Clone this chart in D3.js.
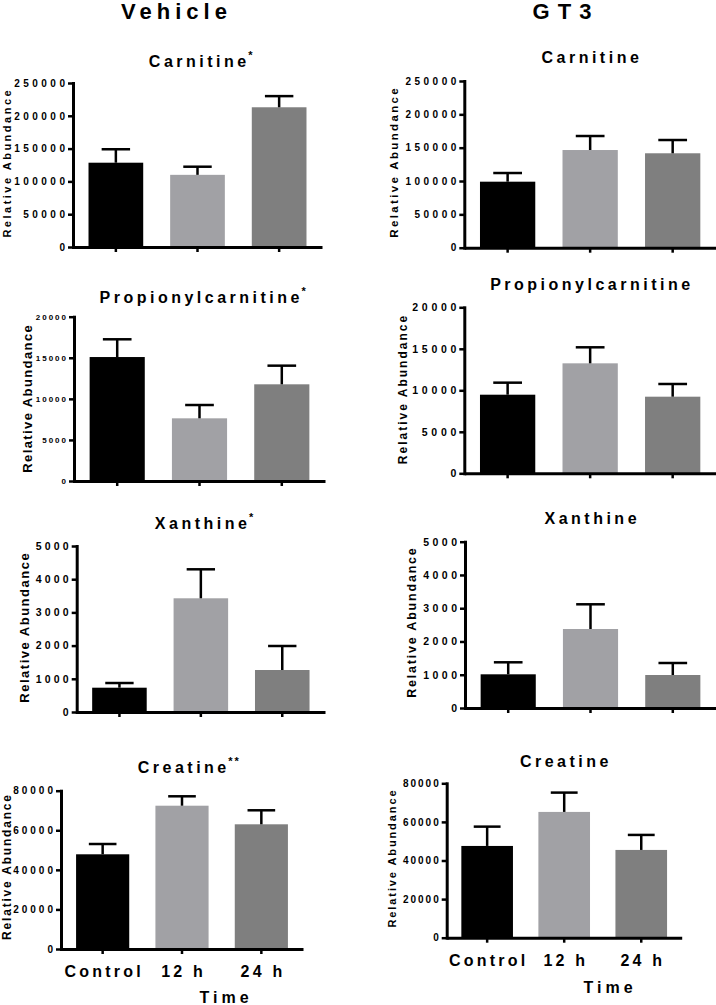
<!DOCTYPE html>
<html>
<head>
<meta charset="utf-8">
<script src="https://cdn.jsdelivr.net/npm/d3@7/dist/d3.min.js"></script>
<style>
  html, body { margin: 0; padding: 0; background: #fff; }
  svg { display: block; font-family: "Liberation Sans", Arial, sans-serif; font-weight: bold; }
</style>
</head>
<body>
<svg id="chart" width="716" height="1005"></svg>
<script>
// ---------------- data ----------------
const groups = ["Vehicle", "GT3"];
const categories = ["Control", "12 h", "24 h"];
const metabolites = ["Carnitine", "Propionylcarnitine", "Xanthine", "Creatine"];

const vehicleMeans = [
  [128500, 110000, 213000],
  [15090, 7630, 11770],
  [732, 3425, 1265],
  [47860, 72420, 63020]
];
const vehicleSEM = [
  [20500, 12400, 17000],
  [2160, 1620, 2270],
  [141, 873, 723],
  [5200, 4750, 7080]
];
const gt3Means = [
  [99000, 146500, 141600],
  [9470, 13250, 9230],
  [1013, 2375, 992],
  [47540, 65170, 45470]
];
const gt3SEM = [
  [13000, 21000, 19900],
  [1450, 1930, 1530],
  [361, 743, 361],
  [10010, 10010, 7780]
];
const vehicleStars = ["*", "*", "*", "**"];
const gt3Stars = ["", "", "", ""];

const yMaxes = [250000, 20000, 5000, 80000];
const yTicks = [
  [0, 50000, 100000, 150000, 200000, 250000],
  [0, 5000, 10000, 15000, 20000],
  [0, 1000, 2000, 3000, 4000, 5000],
  [0, 20000, 40000, 60000, 80000]
];
const yAxisTitle = "Relative Abundance";
const xAxisTitle = "Time";
const barColors = ["#000000", "#a1a1a5", "#7f7f7f"];

// ---------------- layout (positions / sizes) ----------------
const groupTitleLayout = [
  { x: 174, y: 19, fs: 22, ls: 5 },
  { x: 562, y: 19, fs: 22, ls: 8 }
];
const layout = [
  [
    { x0: 73,   x1: 322, yTop: 83,    yZero: 247,   tfs: 10,   tls: 3.5, yl: { x: 10.5, y: 164,   fs: 11,   ls: 2.5 }, titleY: 66.7 },
    { x0: 74,   x1: 325, yTop: 316.7, yZero: 481,   tfs: 8,    tls: 2,   yl: { x: 31.5, y: 399,   fs: 13,   ls: 1.4 }, titleY: 303.3 },
    { x0: 76.7, x1: 325, yTop: 546,   yZero: 712,   tfs: 10.5, tls: 3.2, yl: { x: 29.3, y: 628,   fs: 13,   ls: 1.5 }, titleY: 529.3 },
    { x0: 61,   x1: 303, yTop: 790.7, yZero: 949,   tfs: 10,   tls: 3,   yl: { x: 11,   y: 867.5, fs: 12,   ls: 1.8 }, titleY: 773.3,
      xlabY: 976.7, timeX: 224, timeY: 1003 }
  ],
  [
    { x0: 464.3, x1: 716,   yTop: 81,    yZero: 247.7, tfs: 10,   tls: 3.5, yl: { x: 398,   y: 163, fs: 11.5, ls: 2.35 }, titleY: 63.3 },
    { x0: 464.3, x1: 716,   yTop: 307.3, yZero: 473.3, tfs: 10.5, tls: 3.7, yl: { x: 406.5, y: 390, fs: 12,   ls: 2 },    titleY: 290 },
    { x0: 465,   x1: 716,   yTop: 541.7, yZero: 708,   tfs: 10.5, tls: 3.5, yl: { x: 416,   y: 623, fs: 12.5, ls: 1.8 },  titleY: 524.3 },
    { x0: 446.7, x1: 681.7, yTop: 783.3, yZero: 937.7, tfs: 10,   tls: 2,   yl: { x: 396,   y: 859, fs: 11,   ls: 1.9 },  titleY: 766.7,
      xlabY: 965.7, timeX: 608, timeY: 993.3 }
  ]
];
const titleFs = 16, titleLs = 3.5, starFs = 11;
const xLabFs = 16, xLabLs = 3.2;

// ---------------- drawing ----------------
const svg = d3.select("#chart");

groups.forEach((g, gi) => {
  const gl = groupTitleLayout[gi];
  svg.append("text")
    .attr("x", gl.x + gl.ls / 2).attr("y", gl.y)
    .attr("text-anchor", "middle")
    .style("font-size", gl.fs + "px")
    .style("letter-spacing", gl.ls + "px")
    .text(g);
});

const allMeans = [vehicleMeans, gt3Means];
const allSEM = [vehicleSEM, gt3SEM];
const allStars = [vehicleStars, gt3Stars];

metabolites.forEach((m, mi) => {
  groups.forEach((g, gi) => {
    const L = layout[gi][mi];
    const means = allMeans[gi][mi];
    const sems = allSEM[gi][mi];
    const panel = svg.append("g");

    const x = d3.scaleBand().domain(categories).range([L.x0, L.x1])
      .paddingInner(0.33).paddingOuter(0.19);
    const y = d3.scaleLinear().domain([0, yMaxes[mi]]).range([L.yZero, L.yTop]);

    // bars
    panel.selectAll("rect.bar").data(categories).enter().append("rect")
      .attr("x", d => x(d))
      .attr("y", (d, i) => y(means[i]))
      .attr("width", x.bandwidth())
      .attr("height", (d, i) => y(0) - y(means[i]))
      .attr("fill", (d, i) => barColors[i]);

    // error bars (upper only)
    const capW = x.bandwidth() * 0.52;
    categories.forEach((c, i) => {
      const cx = x(c) + x.bandwidth() / 2;
      panel.append("line")
        .attr("x1", cx).attr("x2", cx)
        .attr("y1", y(means[i])).attr("y2", y(means[i] + sems[i]))
        .attr("stroke", "#000").attr("stroke-width", 2.5);
      panel.append("line")
        .attr("x1", cx - capW / 2).attr("x2", cx + capW / 2)
        .attr("y1", y(means[i] + sems[i])).attr("y2", y(means[i] + sems[i]))
        .attr("stroke", "#000").attr("stroke-width", 2.5);
    });

    // y axis
    const yAxis = d3.axisLeft(y).tickValues(yTicks[mi]).tickSize(5).tickSizeOuter(0)
      .tickPadding(3 - L.tls).tickFormat(d3.format("d"));
    const ya = panel.append("g").attr("transform", `translate(${L.x0},0)`).call(yAxis);
    ya.select(".domain").attr("stroke-width", 3).attr("stroke-linecap", "square");
    ya.selectAll(".tick line").attr("stroke-width", 2.5);
    ya.selectAll(".tick text")
      .attr("fill", "#000")
      .style("font-family", "'Liberation Sans', Arial, sans-serif")
      .style("font-weight", "bold")
      .style("font-size", L.tfs + "px")
      .style("letter-spacing", L.tls + "px");

    // x axis
    const xAxis = d3.axisBottom(x).tickSize(5).tickSizeOuter(0)
      .tickFormat(mi === metabolites.length - 1 ? (d => d) : (() => ""));
    const xa = panel.append("g").attr("transform", `translate(0,${L.yZero})`).call(xAxis);
    xa.select(".domain").attr("stroke-width", 3);
    xa.selectAll(".tick line").attr("stroke-width", 2.5);
    if (mi === metabolites.length - 1) {
      xa.selectAll(".tick text")
        .attr("y", null).attr("dy", null)
        .attr("transform", `translate(${xLabLs / 2},${L.xlabY - L.yZero})`)
        .attr("fill", "#000")
        .style("font-family", "'Liberation Sans', Arial, sans-serif")
        .style("font-weight", "bold")
        .style("font-size", xLabFs + "px")
        .style("letter-spacing", xLabLs + "px");
      panel.append("text")
        .attr("x", L.timeX + 2).attr("y", L.timeY)
        .attr("text-anchor", "middle")
        .style("font-size", "16px")
        .style("letter-spacing", "4px")
        .text(xAxisTitle);
    }

    // y axis title
    panel.append("text")
      .attr("transform", `translate(${L.yl.x},${L.yl.y}) rotate(-90)`)
      .attr("text-anchor", "middle")
      .attr("dx", L.yl.ls / 2)
      .style("font-size", L.yl.fs + "px")
      .style("letter-spacing", L.yl.ls + "px")
      .text(yAxisTitle);

    // panel title
    const cx = (L.x0 + L.x1) / 2;
    const t = panel.append("text")
      .attr("x", cx + titleLs / 2).attr("y", L.titleY)
      .attr("text-anchor", "middle")
      .style("font-size", titleFs + "px")
      .style("letter-spacing", titleLs + "px")
      .text(m);
    const star = allStars[gi][mi];
    if (star) {
      const bb = t.node().getBBox();
      panel.append("text")
        .attr("x", bb.x + bb.width - titleLs + 2)
        .attr("y", L.titleY - 8)
        .style("font-size", starFs + "px")
        .style("letter-spacing", "2px")
        .text(star);
    }
  });
});
</script>
</body>
</html>
